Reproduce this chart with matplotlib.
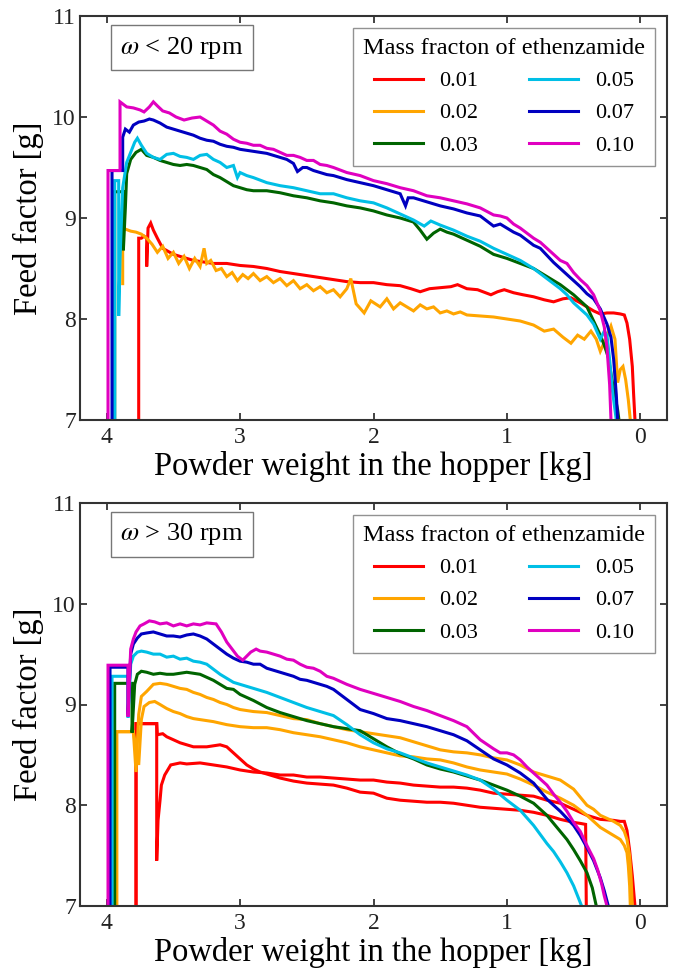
import matplotlib
matplotlib.use("Agg")
import matplotlib.pyplot as plt

plt.rcParams['font.family'] = ['Liberation Serif', 'DejaVu Serif']
plt.rcParams['mathtext.fontset'] = 'stix'

# ---------------- data: top panel (omega < 20 rpm) ----------------
top_x_001 = [3.76, 3.76, 3.74, 3.72, 3.70, 3.70, 3.69, 3.67, 3.65, 3.62,
             3.58, 3.54, 3.50, 3.45, 3.40, 3.35, 3.30, 3.25, 3.20, 3.10,
             3.00, 2.90, 2.80, 2.70, 2.60, 2.50, 2.40, 2.30, 2.20, 2.10,
             2.00, 1.90, 1.80, 1.72, 1.65, 1.58, 1.50, 1.42, 1.37, 1.30,
             1.22, 1.16, 1.12, 1.07, 1.02, 0.95, 0.88, 0.80, 0.72, 0.65,
             0.58, 0.52, 0.45, 0.40, 0.35, 0.30, 0.25, 0.20, 0.15, 0.12,
             0.10, 0.08, 0.06, 0.05, 0.04]
top_y_001 = [7.00, 8.80, 8.80, 8.82, 8.80, 8.52, 8.90, 8.95, 8.88, 8.80,
             8.70, 8.67, 8.64, 8.62, 8.60, 8.58, 8.57, 8.56, 8.55, 8.55,
             8.53, 8.52, 8.50, 8.47, 8.45, 8.43, 8.41, 8.39, 8.37, 8.36,
             8.36, 8.34, 8.33, 8.30, 8.27, 8.30, 8.31, 8.32, 8.34, 8.30,
             8.29, 8.26, 8.24, 8.27, 8.29, 8.26, 8.24, 8.22, 8.19, 8.17,
             8.20, 8.21, 8.16, 8.12, 8.08, 8.05, 8.06, 8.06, 8.05, 8.04,
             7.96, 7.80, 7.53, 7.25, 7.00]

top_x_002 = [3.88, 3.88, 3.86, 3.82, 3.78, 3.74, 3.70, 3.66, 3.62, 3.58,
             3.54, 3.50, 3.46, 3.42, 3.38, 3.34, 3.30, 3.27, 3.25, 3.22,
             3.18, 3.14, 3.10, 3.06, 3.02, 2.98, 2.94, 2.90, 2.85, 2.80,
             2.75, 2.70, 2.65, 2.60, 2.55, 2.50, 2.45, 2.40, 2.35, 2.30,
             2.25, 2.20, 2.17, 2.13, 2.07, 2.02, 1.95, 1.90, 1.85, 1.80,
             1.75, 1.70, 1.65, 1.60, 1.55, 1.50, 1.45, 1.40, 1.35, 1.30,
             1.20, 1.10, 1.00, 0.90, 0.80, 0.72, 0.65, 0.58, 0.52, 0.47,
             0.42, 0.37, 0.33, 0.30, 0.26, 0.22, 0.19, 0.17, 0.15, 0.13,
             0.11, 0.09, 0.075]
top_y_002 = [8.35, 8.91, 8.89, 8.87, 8.86, 8.84, 8.80, 8.74, 8.66, 8.72,
             8.60, 8.66, 8.55, 8.62, 8.50, 8.60, 8.52, 8.70, 8.55, 8.58,
             8.48, 8.50, 8.42, 8.46, 8.38, 8.44, 8.40, 8.45, 8.38, 8.42,
             8.36, 8.40, 8.33, 8.38, 8.30, 8.34, 8.28, 8.32, 8.26, 8.29,
             8.22, 8.30, 8.40, 8.15, 8.06, 8.18, 8.12, 8.20, 8.10, 8.16,
             8.12, 8.08, 8.14, 8.10, 8.12, 8.06, 8.08, 8.05, 8.07, 8.04,
             8.03, 8.02, 8.00, 7.98, 7.94, 7.88, 7.90, 7.82, 7.76, 7.84,
             7.80, 7.88, 7.80, 7.68, 7.80, 7.93, 7.80, 7.37, 7.50, 7.53,
             7.40, 7.20, 7.00]

top_x_003 = [3.94, 3.94, 3.875, 3.875, 3.86, 3.85, 3.82, 3.78, 3.74, 3.70,
             3.65, 3.60, 3.55, 3.50, 3.45, 3.40, 3.35, 3.30, 3.25, 3.20,
             3.15, 3.10, 3.05, 3.00, 2.95, 2.90, 2.80, 2.70, 2.60, 2.50,
             2.40, 2.30, 2.20, 2.10, 2.00, 1.90, 1.80, 1.70, 1.65, 1.60,
             1.55, 1.50, 1.45, 1.40, 1.30, 1.20, 1.10, 1.00, 0.90, 0.80,
             0.70, 0.60, 0.50, 0.45, 0.40, 0.35, 0.30, 0.27, 0.24, 0.20,
             0.17, 0.16]
top_y_003 = [7.00, 9.26, 9.26, 8.68, 9.10, 9.44, 9.58, 9.65, 9.68, 9.62,
             9.60, 9.57, 9.55, 9.53, 9.52, 9.53, 9.52, 9.50, 9.48, 9.43,
             9.40, 9.36, 9.32, 9.30, 9.28, 9.27, 9.27, 9.25, 9.22, 9.20,
             9.17, 9.15, 9.12, 9.10, 9.07, 9.03, 9.00, 8.96, 8.88, 8.79,
             8.85, 8.89, 8.86, 8.84, 8.78, 8.72, 8.64, 8.60, 8.55, 8.50,
             8.42, 8.34, 8.24, 8.18, 8.12, 7.98, 7.84, 7.74, 7.62, 7.30,
             7.10, 7.00]

top_x_005 = [3.94, 3.94, 3.91, 3.91, 3.90, 3.88, 3.85, 3.82, 3.79, 3.77,
             3.74, 3.70, 3.65, 3.60, 3.55, 3.50, 3.45, 3.40, 3.35, 3.30,
             3.25, 3.20, 3.15, 3.10, 3.05, 3.02, 3.00, 2.95, 2.90, 2.80,
             2.70, 2.60, 2.50, 2.40, 2.30, 2.20, 2.10, 2.00, 1.90, 1.80,
             1.70, 1.62, 1.57, 1.50, 1.40, 1.30, 1.20, 1.10, 1.00, 0.90,
             0.80, 0.70, 0.60, 0.55, 0.50, 0.45, 0.40, 0.35, 0.30, 0.27,
             0.25, 0.23, 0.21, 0.19, 0.18]
top_y_005 = [7.00, 9.37, 9.37, 8.03, 8.60, 9.30, 9.55, 9.65, 9.75, 9.79,
             9.72, 9.64, 9.60, 9.58, 9.63, 9.64, 9.61, 9.60, 9.58, 9.62,
             9.63, 9.58, 9.55, 9.50, 9.52, 9.40, 9.45, 9.42, 9.40, 9.35,
             9.32, 9.30, 9.27, 9.24, 9.24, 9.20, 9.17, 9.15, 9.10, 9.04,
             8.98, 8.92, 8.97, 8.93, 8.88, 8.82, 8.77, 8.70, 8.64, 8.58,
             8.50, 8.40, 8.30, 8.24, 8.16, 8.10, 8.04, 7.95, 7.80, 7.88,
             7.84, 7.60, 7.30, 7.10, 7.00]

top_x_007 = [3.96, 3.96, 3.88, 3.88, 3.86, 3.83, 3.80, 3.76, 3.72, 3.68,
             3.65, 3.60, 3.55, 3.50, 3.45, 3.40, 3.35, 3.30, 3.25, 3.20,
             3.15, 3.10, 3.05, 3.00, 2.90, 2.80, 2.70, 2.65, 2.60, 2.57,
             2.53, 2.50, 2.45, 2.40, 2.35, 2.30, 2.20, 2.10, 2.00, 1.90,
             1.80, 1.76, 1.74, 1.70, 1.60, 1.50, 1.40, 1.30, 1.20, 1.10,
             1.05, 1.00, 0.95, 0.90, 0.85, 0.80, 0.75, 0.70, 0.65, 0.60,
             0.55, 0.50, 0.45, 0.40, 0.35, 0.30, 0.25, 0.22, 0.20, 0.18,
             0.17]
top_y_007 = [7.00, 9.47, 9.47, 9.80, 9.88, 9.85, 9.92, 9.95, 9.96, 9.98,
             9.97, 9.94, 9.90, 9.88, 9.86, 9.84, 9.82, 9.79, 9.77, 9.76,
             9.73, 9.71, 9.70, 9.68, 9.66, 9.64, 9.60, 9.58, 9.54, 9.46,
             9.50, 9.50, 9.47, 9.45, 9.43, 9.42, 9.38, 9.35, 9.32, 9.28,
             9.24, 9.12, 9.20, 9.20, 9.16, 9.12, 9.09, 9.05, 9.02, 8.92,
             8.94, 8.90, 8.86, 8.83, 8.78, 8.73, 8.70, 8.63, 8.56, 8.50,
             8.44, 8.38, 8.32, 8.25, 8.20, 8.10, 7.95, 7.82, 7.60, 7.25,
             7.00]

top_x_010 = [3.99, 3.99, 3.90, 3.90, 3.85, 3.80, 3.75, 3.72, 3.68, 3.65,
             3.62, 3.58, 3.53, 3.48, 3.42, 3.36, 3.30, 3.25, 3.20, 3.15,
             3.10, 3.05, 3.00, 2.95, 2.90, 2.85, 2.80, 2.75, 2.70, 2.65,
             2.60, 2.55, 2.50, 2.45, 2.40, 2.35, 2.30, 2.20, 2.10, 2.00,
             1.90, 1.80, 1.70, 1.60, 1.50, 1.40, 1.30, 1.20, 1.10, 1.05,
             1.00, 0.95, 0.90, 0.85, 0.80, 0.75, 0.70, 0.65, 0.60, 0.55,
             0.50, 0.45, 0.40, 0.35, 0.30, 0.27, 0.25, 0.23, 0.22]
top_y_010 = [7.00, 9.47, 9.47, 10.15, 10.10, 10.09, 10.07, 10.05, 10.10, 10.15,
             10.11, 10.06, 10.04, 10.00, 9.97, 9.99, 10.00, 9.96, 9.92, 9.86,
             9.83, 9.78, 9.75, 9.74, 9.72, 9.72, 9.69, 9.68, 9.65, 9.62,
             9.62, 9.60, 9.57, 9.57, 9.53, 9.52, 9.50, 9.45, 9.42, 9.37,
             9.34, 9.30, 9.27, 9.22, 9.20, 9.17, 9.14, 9.10, 9.03, 9.02,
             9.00, 8.94, 8.90, 8.85, 8.80, 8.76, 8.70, 8.64, 8.58, 8.55,
             8.46, 8.39, 8.33, 8.24, 8.08, 7.92, 7.72, 7.35, 7.00]

# ---------------- data: bottom panel (omega > 30 rpm) ----------------
bot_x_001a = [3.78, 3.78, 3.625, 3.625, 3.615, 3.60, 3.59, 3.565, 3.52, 3.45,
              3.40, 3.30, 3.20, 3.10, 3.00, 2.90, 2.80, 2.70, 2.60, 2.50,
              2.40, 2.30, 2.20, 2.10, 2.00, 1.90, 1.80, 1.70, 1.60, 1.50,
              1.40, 1.30, 1.20, 1.10, 1.00, 0.90, 0.80, 0.70, 0.60, 0.50,
              0.40, 0.30, 0.20, 0.15, 0.12, 0.10, 0.08, 0.06, 0.05, 0.04]
bot_y_001a = [7.00, 8.81, 8.81, 7.45, 7.85, 8.05, 8.20, 8.30, 8.40, 8.42,
              8.41, 8.42, 8.40, 8.38, 8.35, 8.33, 8.32, 8.30, 8.30, 8.28,
              8.28, 8.27, 8.26, 8.25, 8.25, 8.23, 8.22, 8.20, 8.19, 8.18,
              8.18, 8.17, 8.15, 8.12, 8.11, 8.10, 8.09, 8.05, 8.02, 7.96,
              7.90, 7.86, 7.85, 7.84, 7.84, 7.75, 7.55, 7.30, 7.15, 7.00]

bot_x_001b = [3.78, 3.78, 3.625, 3.62, 3.58, 3.55, 3.50, 3.45, 3.40, 3.35,
              3.30, 3.25, 3.20, 3.15, 3.10, 3.05, 3.00, 2.95, 2.90, 2.85,
              2.80, 2.70, 2.60, 2.50, 2.40, 2.30, 2.20, 2.10, 2.00, 1.90,
              1.80, 1.70, 1.60, 1.50, 1.40, 1.30, 1.20, 1.10, 1.00, 0.90,
              0.80, 0.70, 0.60, 0.50, 0.45, 0.41, 0.405]
bot_y_001b = [7.00, 8.81, 8.81, 8.70, 8.71, 8.68, 8.65, 8.62, 8.60, 8.58,
              8.58, 8.58, 8.59, 8.60, 8.58, 8.52, 8.46, 8.40, 8.36, 8.33,
              8.31, 8.27, 8.24, 8.22, 8.21, 8.20, 8.17, 8.13, 8.12, 8.07,
              8.05, 8.04, 8.03, 8.03, 8.02, 8.00, 7.98, 7.97, 7.96, 7.95,
              7.93, 7.90, 7.86, 7.83, 7.82, 7.81, 7.00]

bot_x_002a = [3.925, 3.925, 3.80, 3.78, 3.76, 3.74, 3.70, 3.65, 3.60, 3.55,
              3.50, 3.45, 3.40, 3.35, 3.30, 3.25, 3.20, 3.15, 3.10, 3.05,
              3.00, 2.90, 2.80, 2.70, 2.60, 2.50, 2.40, 2.30, 2.20, 2.10,
              2.00, 1.90, 1.80, 1.70, 1.60, 1.50, 1.40, 1.30, 1.20, 1.10,
              1.00, 0.90, 0.80, 0.70, 0.60, 0.50, 0.40, 0.35, 0.30, 0.25,
              0.20, 0.15, 0.12, 0.10, 0.08, 0.07, 0.06]
bot_y_002a = [7.00, 8.73, 8.73, 8.33, 8.90, 9.08, 9.13, 9.20, 9.21, 9.20,
              9.18, 9.16, 9.15, 9.12, 9.10, 9.07, 9.05, 9.02, 9.00, 8.97,
              8.95, 8.93, 8.92, 8.89, 8.86, 8.85, 8.81, 8.78, 8.75, 8.73,
              8.71, 8.69, 8.67, 8.63, 8.59, 8.55, 8.53, 8.52, 8.50, 8.47,
              8.45, 8.40, 8.33, 8.29, 8.25, 8.16, 8.00, 7.96, 7.90, 7.87,
              7.84, 7.80, 7.74, 7.66, 7.50, 7.30, 7.00]

bot_x_002b = [3.925, 3.925, 3.80, 3.76, 3.74, 3.72, 3.68, 3.64, 3.60, 3.55,
              3.50, 3.45, 3.40, 3.35, 3.30, 3.25, 3.20, 3.10, 3.00, 2.90,
              2.80, 2.70, 2.60, 2.50, 2.40, 2.30, 2.20, 2.10, 2.00, 1.90,
              1.80, 1.70, 1.60, 1.50, 1.40, 1.30, 1.20, 1.10, 1.00, 0.90,
              0.80, 0.70, 0.60, 0.50, 0.40, 0.30, 0.20, 0.15, 0.12, 0.10,
              0.09, 0.08, 0.075]
bot_y_002b = [7.00, 8.73, 8.73, 8.40, 8.85, 8.98, 9.02, 9.03, 9.00, 8.96,
              8.93, 8.91, 8.88, 8.86, 8.85, 8.84, 8.83, 8.80, 8.78, 8.77,
              8.77, 8.75, 8.72, 8.70, 8.68, 8.65, 8.62, 8.58, 8.55, 8.52,
              8.49, 8.48, 8.46, 8.45, 8.42, 8.38, 8.35, 8.33, 8.31, 8.26,
              8.20, 8.13, 8.07, 8.00, 7.90, 7.78, 7.70, 7.66, 7.60, 7.53,
              7.40, 7.20, 7.00]

bot_x_003 = [3.94, 3.94, 3.81, 3.81, 3.79, 3.77, 3.74, 3.70, 3.65, 3.60,
             3.55, 3.50, 3.45, 3.40, 3.35, 3.30, 3.25, 3.20, 3.15, 3.10,
             3.05, 3.00, 2.90, 2.80, 2.70, 2.60, 2.50, 2.40, 2.30, 2.20,
             2.10, 2.00, 1.90, 1.80, 1.70, 1.60, 1.50, 1.40, 1.30, 1.20,
             1.10, 1.00, 0.90, 0.80, 0.70, 0.60, 0.55, 0.50, 0.45, 0.40,
             0.36, 0.33]
bot_y_003 = [7.00, 9.21, 9.21, 8.72, 9.20, 9.30, 9.33, 9.32, 9.30, 9.31,
             9.30, 9.30, 9.31, 9.32, 9.31, 9.30, 9.27, 9.24, 9.20, 9.16,
             9.15, 9.10, 9.04, 8.97, 8.92, 8.88, 8.84, 8.81, 8.78, 8.76,
             8.74, 8.66, 8.58, 8.51, 8.46, 8.40, 8.36, 8.33, 8.29, 8.25,
             8.20, 8.15, 8.09, 8.02, 7.90, 7.74, 7.66, 7.56, 7.45, 7.33,
             7.18, 7.00]

bot_x_005 = [3.96, 3.96, 3.84, 3.84, 3.82, 3.80, 3.77, 3.74, 3.70, 3.65,
             3.60, 3.55, 3.50, 3.45, 3.40, 3.35, 3.30, 3.25, 3.20, 3.15,
             3.10, 3.05, 3.00, 2.90, 2.80, 2.70, 2.60, 2.50, 2.40, 2.30,
             2.20, 2.10, 2.00, 1.90, 1.80, 1.70, 1.60, 1.50, 1.40, 1.30,
             1.20, 1.10, 1.00, 0.90, 0.80, 0.70, 0.65, 0.60, 0.55, 0.50,
             0.47, 0.44]
bot_y_005 = [7.00, 9.28, 9.28, 8.87, 9.40, 9.48, 9.52, 9.53, 9.52, 9.50,
             9.50, 9.47, 9.48, 9.45, 9.46, 9.43, 9.42, 9.40, 9.35, 9.30,
             9.26, 9.22, 9.20, 9.16, 9.12, 9.07, 9.02, 8.97, 8.93, 8.89,
             8.80, 8.70, 8.62, 8.56, 8.52, 8.47, 8.42, 8.38, 8.34, 8.30,
             8.25, 8.16, 8.05, 7.95, 7.80, 7.62, 7.54, 7.44, 7.33, 7.20,
             7.10, 7.00]

bot_x_007 = [3.975, 3.975, 3.84, 3.84, 3.82, 3.80, 3.77, 3.74, 3.70, 3.65,
             3.60, 3.55, 3.50, 3.45, 3.40, 3.35, 3.30, 3.25, 3.20, 3.15,
             3.10, 3.05, 3.00, 2.95, 2.90, 2.85, 2.80, 2.75, 2.70, 2.65,
             2.60, 2.55, 2.50, 2.45, 2.40, 2.35, 2.30, 2.20, 2.10, 2.00,
             1.90, 1.80, 1.70, 1.60, 1.50, 1.40, 1.30, 1.20, 1.10, 1.00,
             0.90, 0.80, 0.70, 0.60, 0.50, 0.45, 0.40, 0.35, 0.30, 0.27,
             0.24]
bot_y_007 = [7.00, 9.37, 9.37, 8.90, 9.50, 9.60, 9.66, 9.70, 9.71, 9.72,
             9.70, 9.68, 9.68, 9.67, 9.69, 9.70, 9.68, 9.65, 9.60, 9.55,
             9.50, 9.46, 9.43, 9.42, 9.40, 9.40, 9.36, 9.34, 9.32, 9.30,
             9.28, 9.25, 9.24, 9.22, 9.20, 9.18, 9.15, 9.05, 8.95, 8.91,
             8.86, 8.84, 8.81, 8.78, 8.74, 8.70, 8.64, 8.55, 8.46, 8.40,
             8.32, 8.22, 8.06, 7.94, 7.80, 7.70, 7.58, 7.45, 7.28, 7.15,
             7.00]

bot_x_010 = [3.99, 3.99, 3.84, 3.84, 3.82, 3.80, 3.78, 3.75, 3.72, 3.68,
             3.64, 3.60, 3.55, 3.50, 3.45, 3.40, 3.35, 3.30, 3.25, 3.18,
             3.14, 3.10, 3.06, 3.02, 2.98, 2.95, 2.92, 2.88, 2.85, 2.80,
             2.75, 2.70, 2.65, 2.60, 2.55, 2.50, 2.45, 2.40, 2.35, 2.30,
             2.20, 2.10, 2.00, 1.90, 1.80, 1.70, 1.60, 1.50, 1.40, 1.30,
             1.20, 1.10, 1.05, 1.00, 0.95, 0.90, 0.85, 0.80, 0.75, 0.70,
             0.65, 0.60, 0.55, 0.50, 0.45, 0.40, 0.35, 0.32, 0.29, 0.27,
             0.25]
bot_y_010 = [7.00, 9.39, 9.39, 8.88, 9.55, 9.65, 9.72, 9.78, 9.80, 9.83,
             9.82, 9.80, 9.81, 9.78, 9.80, 9.78, 9.80, 9.79, 9.81, 9.80,
             9.72, 9.62, 9.55, 9.48, 9.44, 9.48, 9.52, 9.55, 9.53, 9.52,
             9.50, 9.48, 9.45, 9.44, 9.40, 9.37, 9.36, 9.33, 9.28, 9.26,
             9.20, 9.15, 9.11, 9.07, 9.03, 8.98, 8.94, 8.89, 8.84, 8.78,
             8.65, 8.56, 8.52, 8.52, 8.50, 8.45, 8.38, 8.32, 8.26, 8.20,
             8.11, 8.03, 7.94, 7.83, 7.74, 7.60, 7.47, 7.36, 7.22, 7.10,
             7.00]

legend_labels = ['0.01', '0.02', '0.03', '0.05', '0.07', '0.10']
colors = ['#ff0000', '#ffa500', '#006400', '#00bfe6', '#0000c0', '#e000c0']
panel_titles = [r'$\omega$ < 20 rpm', r'$\omega$ > 30 rpm']
legend_title = 'Mass fracton of ethenzamide'
x_ticks = [4, 3, 2, 1, 0]
y_ticks = [7, 8, 9, 10, 11]

top_series = [(top_x_001, top_y_001, 0), (top_x_002, top_y_002, 1),
              (top_x_003, top_y_003, 2), (top_x_005, top_y_005, 3),
              (top_x_007, top_y_007, 4), (top_x_010, top_y_010, 5)]
bot_series = [(bot_x_001a, bot_y_001a, 0), (bot_x_001b, bot_y_001b, 0),
              (bot_x_002a, bot_y_002a, 1), (bot_x_002b, bot_y_002b, 1),
              (bot_x_003, bot_y_003, 2), (bot_x_005, bot_y_005, 3),
              (bot_x_007, bot_y_007, 4), (bot_x_010, bot_y_010, 5)]

fig = plt.figure(figsize=(6.76, 9.69), dpi=100)
ax_top = fig.add_axes([80 / 676, 1 - 420 / 969, 587 / 676, 404 / 969])
ax_bot = fig.add_axes([80 / 676, 1 - 906 / 969, 587 / 676, 403 / 969])

for ax, series, title in [(ax_top, top_series, panel_titles[0]),
                          (ax_bot, bot_series, panel_titles[1])]:
    handles = {}
    for xs, ys, ci in series:
        ln, = ax.plot(xs, ys, color=colors[ci], lw=2.2, solid_joinstyle='miter')
        handles.setdefault(ci, ln)
    ax.set_xlim(4.2, -0.2)
    ax.set_ylim(7, 11)
    ax.set_xticks(x_ticks)
    ax.set_yticks(y_ticks)
    ax.tick_params(direction='in', top=True, right=True, length=5, width=1.2,
                   labelsize=17, pad=5, colors='#222222')
    ax.tick_params(axis='y', pad=3)
    for sp in ax.spines.values():
        sp.set_linewidth(1.5)
        sp.set_color('#333333')
    ax.set_xlabel('Powder weight in the hopper [kg]', fontsize=23.5, labelpad=2)
    ax.set_ylabel('Feed factor [g]', fontsize=23.5, labelpad=6)
    ax.text(0.174, 0.922, title, transform=ax.transAxes, fontsize=19,
            ha='center', va='center',
            bbox=dict(boxstyle='square,pad=0.35', fc='white', ec='#777777', lw=1.0))
    hl = [handles[i] for i in range(6)]
    leg = ax.legend(hl, legend_labels, ncol=2, loc='upper right',
                    title=legend_title, fontsize=16, title_fontsize=17.5,
                    frameon=True, fancybox=False, edgecolor='#777777',
                    handlelength=2.2, handletextpad=0.75, columnspacing=2.3,
                    labelspacing=0.52, borderaxespad=0.55, borderpad=0.45)
    leg.get_frame().set_linewidth(1.0)
    for l in leg.get_lines():
        l.set_linewidth(2.2)

fig.savefig('out.png', dpi=100)
